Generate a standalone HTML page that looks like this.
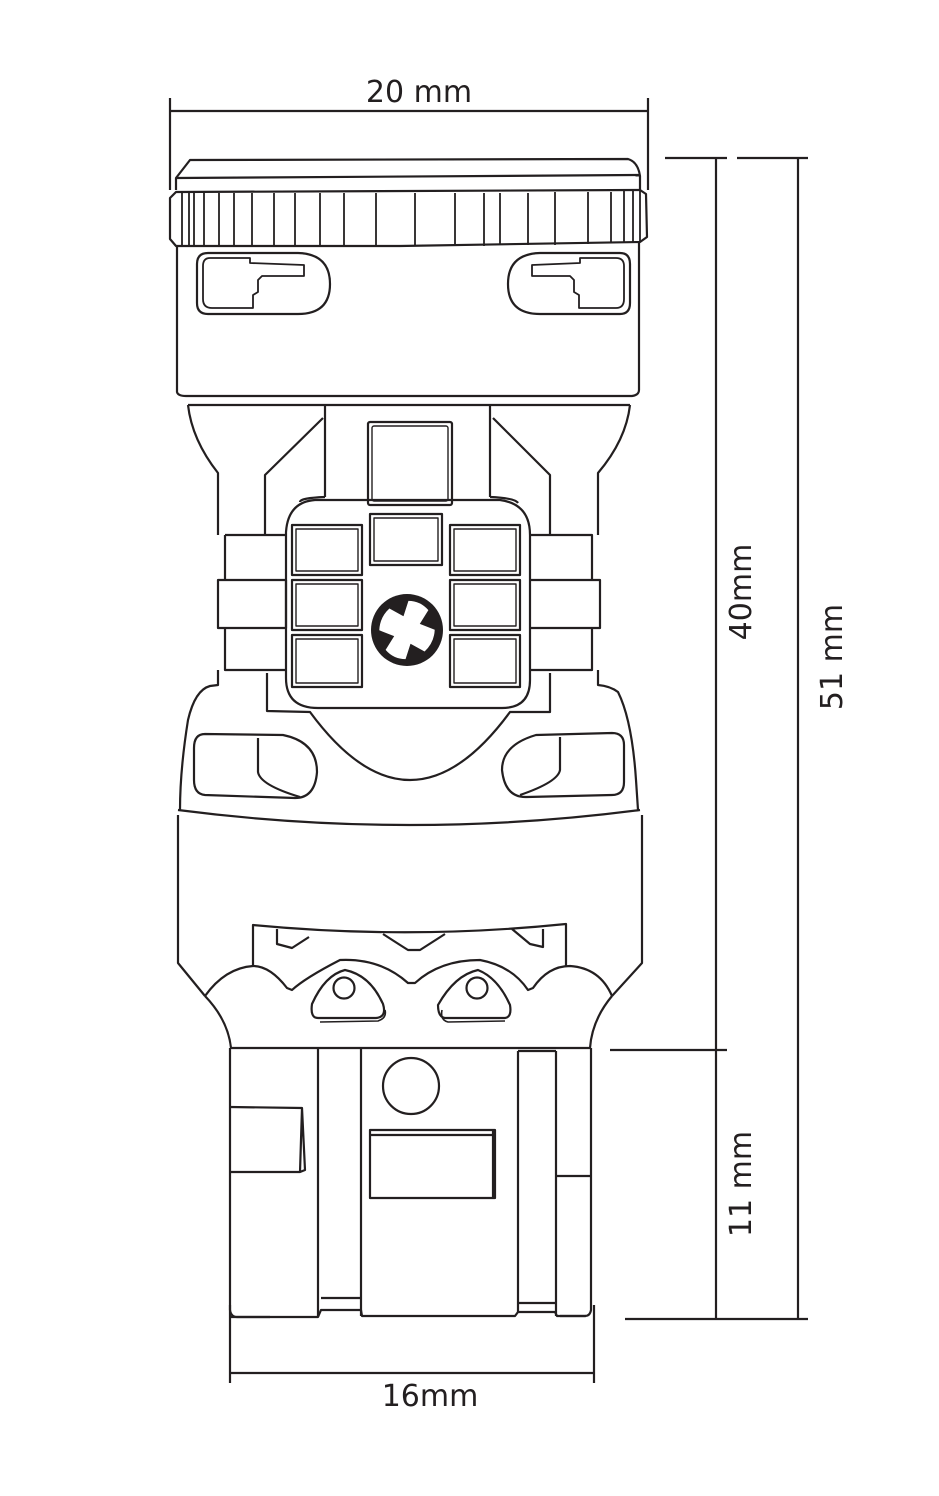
<!DOCTYPE html>
<html><head><meta charset="utf-8"><style>
html,body{margin:0;padding:0;background:#fff;}
svg{display:block;}
text{font-family:"DejaVu Sans","Liberation Sans",sans-serif;fill:#231f20;}
</style></head><body>
<svg width="939" height="1496" viewBox="0 0 939 1496" xmlns="http://www.w3.org/2000/svg">
<g fill="none" stroke="#231f20" stroke-width="2.2" stroke-linejoin="round">
<!-- top dimension -->
<line x1="170" y1="111" x2="648" y2="111"/>
<line x1="170" y1="98" x2="170" y2="190"/>
<line x1="648" y1="98" x2="648" y2="190"/>
<!-- right dimensions -->
<line x1="716" y1="158" x2="716" y2="1319"/>
<line x1="798" y1="158" x2="798" y2="1319"/>
<line x1="665" y1="158" x2="727" y2="158"/>
<line x1="737" y1="158" x2="808" y2="158"/>
<line x1="610" y1="1050" x2="727" y2="1050"/>
<line x1="625" y1="1319" x2="808" y2="1319"/>
<!-- bottom dimension -->
<line x1="230" y1="1373" x2="594" y2="1373"/>
<line x1="230" y1="1305" x2="230" y2="1383"/>
<line x1="594" y1="1305" x2="594" y2="1383"/>

<!-- cap -->
<path d="M176,190 L176,178 L190,160 L628,159 Q638,162 640,176 L640,190"/>
<line x1="176" y1="178" x2="640" y2="175"/>
<path d="M176,192 L640,190 L646,194 L647,237 L640,242 L400,246 L176,246 L170,239 L170,198 Z"/>
<g stroke-width="1.8">
<line x1="182" y1="193" x2="182" y2="245"/><line x1="189" y1="193" x2="189" y2="245"/>
<line x1="194" y1="193" x2="194" y2="245"/><line x1="204" y1="193" x2="204" y2="245"/>
<line x1="219" y1="193" x2="219" y2="245"/><line x1="234" y1="193" x2="234" y2="245"/>
<line x1="252" y1="193" x2="252" y2="245"/><line x1="274" y1="193" x2="274" y2="246"/>
<line x1="295" y1="193" x2="295" y2="246"/><line x1="320" y1="193" x2="320" y2="246"/>
<line x1="344" y1="193" x2="344" y2="246"/><line x1="376" y1="193" x2="376" y2="246"/>
<line x1="415" y1="193" x2="415" y2="246"/><line x1="455" y1="193" x2="455" y2="246"/>
<line x1="484" y1="193" x2="484" y2="246"/><line x1="500" y1="193" x2="500" y2="245"/>
<line x1="528" y1="193" x2="528" y2="245"/><line x1="555" y1="192" x2="555" y2="245"/>
<line x1="588" y1="192" x2="588" y2="244"/><line x1="611" y1="192" x2="611" y2="243"/>
<line x1="624" y1="191" x2="624" y2="243"/><line x1="633" y1="191" x2="633" y2="242"/>
<line x1="640" y1="191" x2="640" y2="241"/>
</g>
<!-- upper body -->
<path d="M177,246 L177,392 Q178,396 186,396 L632,396 Q639,395 639,390 L639,242"/>
<!-- slots -->
<path d="M208,253 L298,253 Q330,254 330,284 Q330,314 298,314 L208,314 Q197,314 197,303 L197,264 Q197,253 208,253 Z"/>
<path d="M210,258 L250,258 L250,263 L304,265 L304,276 L262,276 L258,280 L258,292 L253,295 L253,308 L212,308 Q203,308 203,299 L203,266 Q203,258 210,258 Z" stroke-width="1.8"/>
<path d="M620,253 L540,253 Q508,254 508,284 Q508,314 540,314 L620,314 Q630,314 630,303 L630,264 Q630,253 620,253 Z"/>
<path d="M616,258 L580,258 L580,263 L532,265 L532,276 L570,276 L574,280 L574,292 L579,295 L579,308 L616,308 Q624,308 624,299 L624,266 Q624,258 616,258 Z" stroke-width="1.8"/>

<!-- middle section -->
<path d="M188,405 L630,405"/>
<path d="M188,405 Q192,440 218,473 L218,535"/>
<path d="M630,405 Q626,440 598,473 L598,535"/>
<path d="M325,406 L325,497"/>
<path d="M490,406 L490,497"/>
<path d="M323,418 L265,475 L265,535"/>
<path d="M493,418 L550,475 L550,535"/>
<!-- plate -->
<path d="M315,500 L500,500 Q530,504 530,535 L530,680 Q530,708 502,708 L318,708 Q286,708 286,678 L286,532 Q288,502 315,500 Z"/>
<path d="M325,497 Q300,498 300,502"/>
<path d="M490,497 Q515,498 518,503"/>
<!-- bands -->
<path d="M225,535 L286,535 M225,535 L225,580 M218,580 L286,580 L286,628 L218,628 Z M225,628 L225,670 L286,670"/>
<path d="M530,535 L592,535 L592,580 M530,580 L600,580 L600,628 L530,628 M592,628 L592,670 L530,670"/>
<!-- squares -->
<g>
<rect x="368" y="422" width="84" height="83" rx="2"/>
<rect x="372" y="426" width="76" height="75" rx="2" stroke-width="1.4"/>
<rect x="370" y="514" width="72" height="51"/><rect x="374" y="518" width="64" height="43" stroke-width="1.4"/>
<rect x="292" y="525" width="70" height="50"/><rect x="296" y="529" width="62" height="42" stroke-width="1.4"/>
<rect x="292" y="580" width="70" height="50"/><rect x="296" y="584" width="62" height="42" stroke-width="1.4"/>
<rect x="292" y="635" width="70" height="52"/><rect x="296" y="639" width="62" height="44" stroke-width="1.4"/>
<rect x="450" y="525" width="70" height="50"/><rect x="454" y="529" width="62" height="42" stroke-width="1.4"/>
<rect x="450" y="580" width="70" height="50"/><rect x="454" y="584" width="62" height="42" stroke-width="1.4"/>
<rect x="450" y="635" width="70" height="52"/><rect x="454" y="639" width="62" height="44" stroke-width="1.4"/>
</g>
<!-- lower middle -->
<path d="M218,670 L218,685 L210,686 Q195,690 188,720 Q180,770 180,810"/>
<path d="M598,670 L598,685 Q610,686 618,692 Q632,720 636,780 L638,810"/>
<path d="M267,673 L267,711 L310,712 Q360,780 410,780 Q460,780 510,712 L550,712 L550,673"/>
<path d="M205,734 L283,735 Q317,742 317,772 Q315,798 295,798 L205,795 Q194,794 194,780 L194,748 Q194,734 205,734 Z"/>
<path d="M258,738 L258,772 Q260,785 300,797"/>
<path d="M612,733 L536,735 Q502,745 502,770 Q505,798 527,797 L612,795 Q624,795 624,782 L624,745 Q624,733 612,733 Z"/>
<path d="M560,737 L560,770 Q558,782 520,795"/>

<!-- lower body -->
<path d="M178,810 Q410,840 640,810"/>
<path d="M178,815 L178,963 L205,996"/>
<path d="M642,815 L642,963 L612,996"/>
<path d="M205,996 Q228,1020 231,1048 L590,1048 Q592,1020 612,996"/>
<path d="M253,966 L253,925 Q410,940 566,924 L566,966"/>
<path d="M277,929 L277,944 L292,948 L309,937"/>
<path d="M383,934 Q400,945 408,950 L420,950 L445,934"/>
<path d="M512,929 L530,944 L543,947 L543,929"/>
<path d="M205,996 Q225,968 253,966 Q270,966 287,988 L292,990 Q305,978 340,960 Q380,958 408,983 L415,983 Q440,960 480,960 Q512,966 528,990 L533,988 Q548,966 570,966 Q600,968 612,996"/>
<path d="M318,1018 L376,1018 Q387,1017 383,1004 Q370,975 345,970 Q325,975 312,1004 Q310,1018 318,1018 Z"/>
<path d="M320,1022 L378,1021 Q387,1018 385,1010" stroke-width="1.6"/>
<circle cx="344" cy="988" r="10.5"/>
<path d="M445,1018 L505,1018 Q512,1017 510,1005 Q498,978 478,970 Q455,975 438,1005 Q438,1017 445,1018 Z"/>
<path d="M442,1010 Q440,1020 448,1022 L505,1021" stroke-width="1.6"/>
<circle cx="477" cy="988" r="10.5"/>

<!-- base -->
<path d="M230,1048 L230,1310 Q231,1317 237,1317 L270,1317"/>
<path d="M591,1048 L591,1310 Q590,1316 585,1316 L560,1316"/>
<path d="M230,1317 L270,1317 L318,1317 L321,1310 L361,1310 L362,1316 L515,1316 L518,1312 L555,1312 L557,1316 L586,1316"/>
<line x1="318" y1="1048" x2="318" y2="1317"/>
<line x1="361" y1="1048" x2="361" y2="1316"/>
<line x1="518" y1="1051" x2="518" y2="1312"/>
<line x1="556" y1="1051" x2="556" y2="1316"/>
<line x1="518" y1="1051" x2="556" y2="1051"/>
<line x1="321" y1="1298" x2="361" y2="1298"/>
<line x1="518" y1="1303" x2="556" y2="1303"/>
<line x1="556" y1="1176" x2="591" y2="1176"/>
<circle cx="411" cy="1086" r="28"/>
<path d="M370,1130 L495,1130 L495,1198 L370,1198 Z M370,1135 L493,1135 M493,1130 L493,1198"/>
<path d="M230,1107 L302,1108 L305,1170 L300,1172 L230,1172 M302,1108 L300,1172"/>
</g>
<circle cx="407" cy="630" r="36" fill="#231f20"/>
<path d="M396,603 Q407,598 418,603 L416,619 L432,618 Q437,630 432,642 L416,641 L418,657 Q407,662 396,657 L398,641 L382,642 Q377,630 382,618 L398,619 Z" fill="#fff" transform="rotate(25 407 630)"/>

<text x="419" y="102" font-size="30" text-anchor="middle">20 mm</text>
<text x="430" y="1406" font-size="30" text-anchor="middle">16mm</text>
<text transform="translate(751,592) rotate(-90)" font-size="30" text-anchor="middle">40mm</text>
<text transform="translate(842,657) rotate(-90)" font-size="30" text-anchor="middle">51 mm</text>
<text transform="translate(751,1184) rotate(-90)" font-size="30" text-anchor="middle">11 mm</text>
</svg>
</body></html>
